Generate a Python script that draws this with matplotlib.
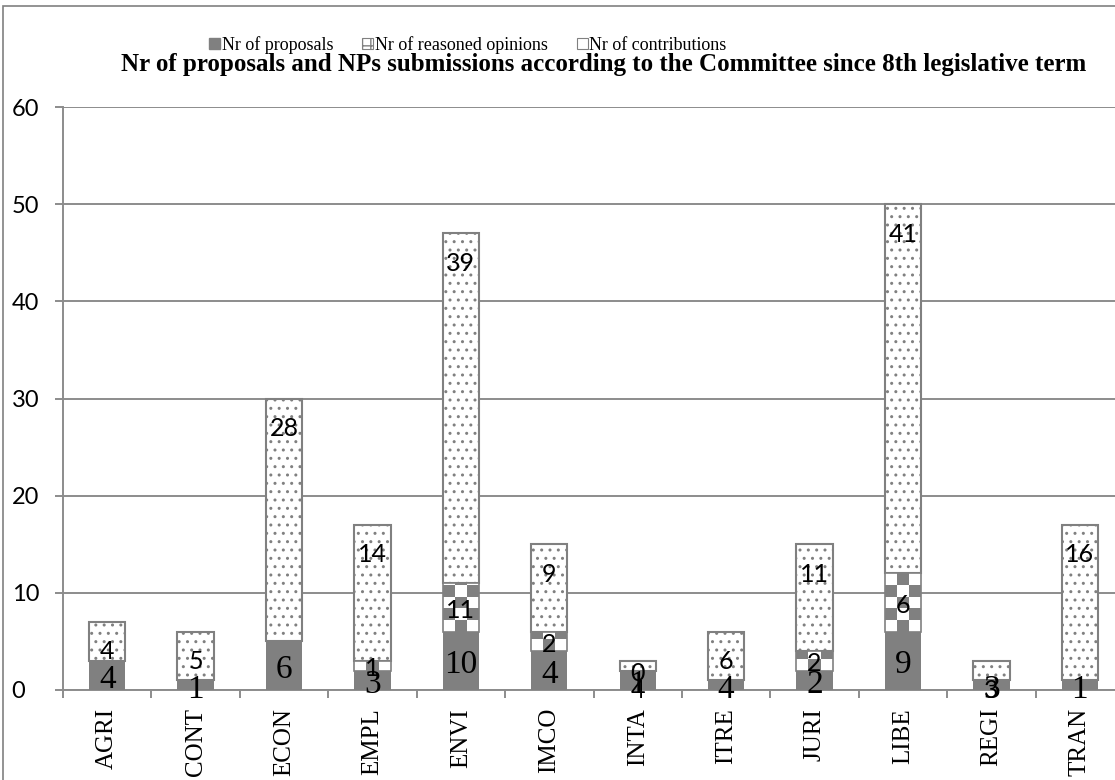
import numpy as np
import matplotlib
matplotlib.use('Agg')
import matplotlib.pyplot as plt
from matplotlib.patches import Patch, Rectangle
from matplotlib.colors import ListedColormap

committees = ['AGRI', 'CONT', 'ECON', 'EMPL', 'ENVI', 'IMCO',
              'INTA', 'ITRE', 'JURI', 'LIBE', 'REGI', 'TRAN']
# bar segment heights as drawn
proposals = [3, 1, 5, 2, 6, 4, 2, 1, 2, 6, 1, 1]
reasoned = [0, 0, 0, 1, 5, 2, 0, 0, 2, 6, 0, 0]
contributions = [4, 5, 25, 14, 36, 9, 1, 5, 11, 38, 2, 16]
# data labels as printed on the chart
proposal_labels = ['4', '1', '6', '3', '10', '4', '1', '4', '2', '9', '3', '1']
reasoned_labels = ['', '', '', '1', '11', '2', '0', '', '2', '6', '', '']
contribution_labels = ['4', '5', '28', '14', '39', '9', '4', '6', '11', '41', '3', '16']

GRAY = '#808080'
GRID = '#8c8c8c'
SERIF = 'Liberation Serif'
SANS = 'Lato'

plt.rcParams['hatch.linewidth'] = 1.0

fig = plt.figure(figsize=(11.15, 7.8), dpi=100)
W, H = 1115, 780
ax = fig.add_axes([63 / W, (H - 690) / H, (1124 - 63) / W, (690 - 107) / H])

x = np.arange(len(committees))
bw = 0.41
prop = np.array(proposals)
reas = np.array(reasoned)
cont = np.array(contributions)

b1 = ax.bar(x, prop, bw, color=GRAY, edgecolor=GRAY, linewidth=0, zorder=3)
b2 = ax.bar(x, reas, bw, bottom=prop, color='white', edgecolor=GRAY,
            linewidth=1.2, zorder=3)
b3 = ax.bar(x, cont, bw, bottom=prop + reas, color='white', edgecolor=GRAY,
            linewidth=1.5, hatch='..', zorder=3)

# checkerboard fill for reasoned opinions
cmap = ListedColormap(['white', GRAY])
for p in b2.patches:
    h = p.get_height()
    if h <= 0:
        continue
    x0, y0, w = p.get_x(), p.get_y(), p.get_width()
    xs = np.linspace(x0, x0 + w, 4)
    ys = np.arange(y0, y0 + h + 1.2, 1.2)
    ys[-1] = y0 + h
    C = (np.add.outer(np.arange(len(ys) - 1), np.arange(3)) % 2).astype(float)
    m = ax.pcolormesh(xs, ys, C, cmap=cmap, vmin=0, vmax=1, zorder=3.5)
    m.set_clip_path(p)
    p.set_zorder(4)
    p.set_facecolor('none')

# data labels
for i in range(len(committees)):
    ax.annotate(proposal_labels[i], (x[i], prop[i] / 2), xytext=(0, -3),
                textcoords='offset points', ha='center', va='center',
                fontsize=24, family=SERIF, zorder=6)
    if reasoned_labels[i]:
        ax.annotate(reasoned_labels[i], (x[i], prop[i] + reas[i] / 2),
                    xytext=(0, -2), textcoords='offset points', ha='center',
                    va='center', fontsize=18, family=SANS, zorder=6)
    ax.annotate(contribution_labels[i], (x[i], prop[i] + reas[i] + cont[i]),
                xytext=(0, -21.5), textcoords='offset points', ha='center',
                va='center', fontsize=18, family=SANS, zorder=6)

ax.set_xlim(-0.5, len(committees) - 0.5)
ax.set_ylim(0, 60)
ax.set_yticks(range(0, 61, 10))
ax.yaxis.grid(True, color=GRID, linewidth=1.4)
ax.set_axisbelow(True)
for s in ['top', 'right']:
    ax.spines[s].set_visible(False)
for s in ['left', 'bottom']:
    ax.spines[s].set_color(GRID)
    ax.spines[s].set_linewidth(1.4)

ax.set_xticks(x)
ax.set_xticklabels(committees, rotation=90, family=SERIF, fontsize=18)
ax.set_xticks(np.arange(-0.5, len(committees), 1), minor=True)
ax.tick_params(axis='x', which='major', length=0, pad=13)
ax.tick_params(axis='x', which='minor', length=6, width=1.4, color=GRID)
ax.tick_params(axis='y', length=6, width=1.4, color=GRID, pad=31, labelsize=17)
for lbl in ax.get_yticklabels():
    lbl.set_horizontalalignment('left')
    lbl.set_family(SANS)

# legend
checker = Patch(facecolor='white', edgecolor=GRAY, hatch='++', linewidth=0.8)
handles = [Patch(facecolor=GRAY, edgecolor=GRAY),
           checker,
           Patch(facecolor='white', edgecolor=GRAY, linewidth=0.8)]
fig.legend(handles, ['Nr of proposals', 'Nr of reasoned opinions', 'Nr of contributions'],
           loc='center', bbox_to_anchor=(468 / W, 1 - 45 / H), ncol=3, frameon=False,
           prop={'family': SERIF, 'size': 13}, handlelength=0.6, handleheight=0.6,
           handletextpad=0.1, columnspacing=1.6)

fig.text(604 / W, 1 - 64 / H,
         'Nr of proposals and NPs submissions according to the Committee since 8th legislative term',
         ha='center', va='center', family=SERIF, fontweight='bold', fontsize=18)

# outer chart border
fig.add_artist(Rectangle((3 / W, -0.1), 1.2, 1.1 - 6 / H, transform=fig.transFigure,
                         fill=False, edgecolor=GRAY, linewidth=1.2))

fig.savefig('out.png', dpi=100)
